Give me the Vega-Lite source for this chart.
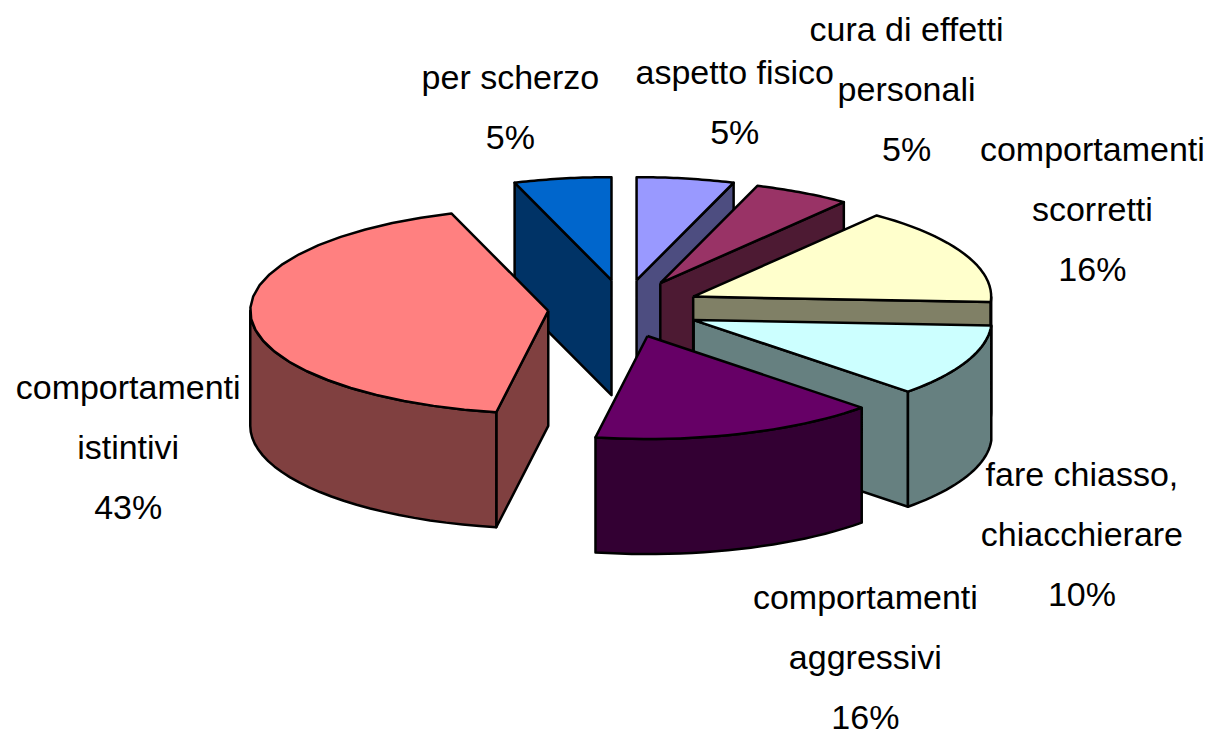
{"$schema":"https://vega.github.io/schema/vega-lite/v6.json","width":1209,"height":736,"padding":0,"autosize":{"type":"none"},"background":"white","view":{"stroke":null},
"data":{"values":[
{"slice":"per scherzo","clock":7,"share":5.27,"percent":5},
{"slice":"aspetto fisico","clock":1,"share":5.28,"percent":5},
{"slice":"cura di effetti|personali","clock":2,"share":5.28,"percent":5},
{"slice":"comportamenti|scorretti","clock":3,"share":15.28,"percent":16},
{"slice":"fare chiasso,|chiacchierare","clock":4,"share":11.39,"percent":10},
{"slice":"comportamenti|istintivi","clock":6,"share":41.94,"percent":43},
{"slice":"comportamenti|aggressivi","clock":5,"share":15.56,"percent":16}
]},
"transform":[
{"window":[{"op":"sum","field":"share","as":"cum"}],"sort":[{"field":"clock","order":"ascending"}]},
{"calculate":"2*PI*(datum.cum-datum.share)/100","as":"a0"},
{"calculate":"2*PI*datum.cum/100","as":"a1"},
{"calculate":"(datum.a0+datum.a1)/2","as":"mid"},
{"calculate":"0.255*sin(datum.mid)","as":"ox"},
{"calculate":"0.28*cos(datum.mid)","as":"oy"}
],
"layer":[
{"transform":[
{"calculate":"max(datum.a0,PI/2)","as":"w0"},
{"calculate":"min(datum.a1,3*PI/2)","as":"w1"},
{"calculate":"sin(datum.a0)<-0.001?datum.a0:(sin(datum.a1)>0.001?datum.a1:-1)","as":"f"},
{"calculate":"['face','wall','top']","as":"parts"},
{"flatten":["parts"],"as":["part"]},
{"calculate":"[0,1,2,3,4,5,6,7,8,9,10,11,12,13,14,15,16,17,18,19,20,21,22,23,24,25,26,27,28,29,30,31,32,33,34,35,36,37,38,39,40,41,42,43,44,45,46,47,48,49,50]","as":"steps"},
{"flatten":["steps"],"as":["i"]},
{"filter":"datum.part=='top'?datum.i<=26:(datum.part=='wall'?(datum.w1>datum.w0):(datum.f>=0&&datum.i<=4))"},
{"calculate":"datum.part=='top'?(datum.i>=1&&datum.i<=25?1:0):(datum.part=='wall'?1:(datum.i==1||datum.i==2?1:0))","as":"rim"},
{"calculate":"datum.part=='wall'?(datum.i>24&&datum.i<50?1:0):(datum.part=='face'?(datum.i==2||datum.i==3?1:0):0)","as":"low"},
{"calculate":"datum.part=='top'?datum.a0+(datum.a1-datum.a0)*(datum.i-1)/24:(datum.part=='face'?datum.f:(datum.i<=24?datum.w0+(datum.w1-datum.w0)*datum.i/24:(datum.i==50?datum.w0:datum.w1-(datum.w1-datum.w0)*(datum.i-25)/24)))","as":"ang"},
{"calculate":"datum.ox+datum.rim*sin(datum.ang)","as":"px"},
{"calculate":"datum.oy+datum.rim*cos(datum.ang)-datum.low*1.117","as":"py"},
{"calculate":"datum.slice+'/'+datum.part","as":"poly"},
{"calculate":"datum.slice+(datum.part=='top'?' top':' side')","as":"shade"}
],
"mark":{"type":"line","interpolate":"linear","stroke":"black","strokeWidth":2.5,"strokeJoin":"round","clip":false},
"encoding":{
"x":{"field":"px","type":"quantitative","axis":null,"scale":{"domain":[-2.094,1.963],"zero":false,"nice":false}},
"y":{"field":"py","type":"quantitative","axis":null,"scale":{"domain":[-4.15,2.996],"zero":false,"nice":false}},
"order":{"field":"i","type":"quantitative"},
"detail":{"field":"poly","type":"nominal"},
"fill":{"field":"shade","type":"nominal","legend":null,"scale":{
"domain":["aspetto fisico top","cura di effetti|personali top","comportamenti|scorretti top","fare chiasso,|chiacchierare top","comportamenti|aggressivi top","comportamenti|istintivi top","per scherzo top","aspetto fisico side","cura di effetti|personali side","comportamenti|scorretti side","fare chiasso,|chiacchierare side","comportamenti|aggressivi side","comportamenti|istintivi side","per scherzo side"],
"range":["#9999FF","#993366","#FFFFCC","#CCFFFF","#660066","#FF8080","#0066CC","#4D4D80","#4D1A33","#808066","#668080","#330033","#804040","#003366"]}}
}},
{"transform":[{"filter":"datum.clock==1"},{"calculate":"datum.slice+'|'+datum.percent+'%'","as":"label"},{"calculate":"datum.ox+sin(datum.mid)","as":"lx"},{"calculate":"datum.oy+cos(datum.mid)","as":"ly"}],
"mark":{"type":"text","font":"Liberation Sans","fontSize":34,"lineBreak":"|","lineHeight":60,"align":"center","baseline":"middle","color":"black","dx":49,"dy":-105},
"encoding":{"x":{"field":"lx","type":"quantitative"},"y":{"field":"ly","type":"quantitative"},"text":{"field":"label"}}},
{"transform":[{"filter":"datum.clock==2"},{"calculate":"datum.slice+'|'+datum.percent+'%'","as":"label"},{"calculate":"datum.ox+sin(datum.mid)","as":"lx"},{"calculate":"datum.oy+cos(datum.mid)","as":"ly"}],
"mark":{"type":"text","font":"Liberation Sans","fontSize":34,"lineBreak":"|","lineHeight":60,"align":"center","baseline":"middle","color":"black","dx":104,"dy":-162},
"encoding":{"x":{"field":"lx","type":"quantitative"},"y":{"field":"ly","type":"quantitative"},"text":{"field":"label"}}},
{"transform":[{"filter":"datum.clock==3"},{"calculate":"datum.slice+'|'+datum.percent+'%'","as":"label"},{"calculate":"datum.ox+sin(datum.mid)","as":"lx"},{"calculate":"datum.oy+cos(datum.mid)","as":"ly"}],
"mark":{"type":"text","font":"Liberation Sans","fontSize":34,"lineBreak":"|","lineHeight":60,"align":"center","baseline":"middle","color":"black","dx":128,"dy":-103},
"encoding":{"x":{"field":"lx","type":"quantitative"},"y":{"field":"ly","type":"quantitative"},"text":{"field":"label"}}},
{"transform":[{"filter":"datum.clock==4"},{"calculate":"datum.slice+'|'+datum.percent+'%'","as":"label"},{"calculate":"datum.ox+sin(datum.mid)","as":"lx"},{"calculate":"datum.oy+cos(datum.mid)","as":"ly"}],
"mark":{"type":"text","font":"Liberation Sans","fontSize":34,"lineBreak":"|","lineHeight":60,"align":"center","baseline":"middle","color":"black","dx":115,"dy":115},
"encoding":{"x":{"field":"lx","type":"quantitative"},"y":{"field":"ly","type":"quantitative"},"text":{"field":"label"}}},
{"transform":[{"filter":"datum.clock==5"},{"calculate":"datum.slice+'|'+datum.percent+'%'","as":"label"},{"calculate":"datum.ox+sin(datum.mid)","as":"lx"},{"calculate":"datum.oy+cos(datum.mid)","as":"ly"}],
"mark":{"type":"text","font":"Liberation Sans","fontSize":34,"lineBreak":"|","lineHeight":60,"align":"center","baseline":"middle","color":"black","dx":126,"dy":165},
"encoding":{"x":{"field":"lx","type":"quantitative"},"y":{"field":"ly","type":"quantitative"},"text":{"field":"label"}}},
{"transform":[{"filter":"datum.clock==6"},{"calculate":"datum.slice+'|'+datum.percent+'%'","as":"label"},{"calculate":"datum.ox+sin(datum.mid)","as":"lx"},{"calculate":"datum.oy+cos(datum.mid)","as":"ly"}],
"mark":{"type":"text","font":"Liberation Sans","fontSize":34,"lineBreak":"|","lineHeight":60,"align":"center","baseline":"middle","color":"black","dx":-123,"dy":70},
"encoding":{"x":{"field":"lx","type":"quantitative"},"y":{"field":"ly","type":"quantitative"},"text":{"field":"label"}}},
{"transform":[{"filter":"datum.clock==7"},{"calculate":"datum.slice+'|'+datum.percent+'%'","as":"label"},{"calculate":"datum.ox+sin(datum.mid)","as":"lx"},{"calculate":"datum.oy+cos(datum.mid)","as":"ly"}],
"mark":{"type":"text","font":"Liberation Sans","fontSize":34,"lineBreak":"|","lineHeight":60,"align":"center","baseline":"middle","color":"black","dx":-52,"dy":-100},
"encoding":{"x":{"field":"lx","type":"quantitative"},"y":{"field":"ly","type":"quantitative"},"text":{"field":"label"}}}
]}
